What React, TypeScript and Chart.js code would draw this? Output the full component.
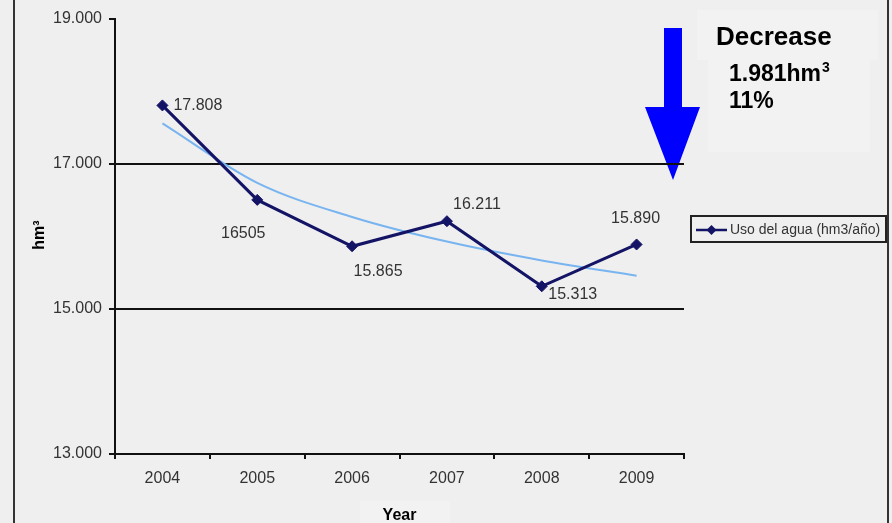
import React, { useEffect, useRef } from 'react';
import { Chart, registerables } from 'chart.js';

Chart.register(...registerables);

// ---- data ----
const years = ['2004', '2005', '2006', '2007', '2008', '2009'];
const waterUse = [17808, 16505, 15865, 16211, 15313, 15890];
// light-blue trend curve, values at each year
const trendValues = [17560, 16740, 16270, 15930, 15670, 15460];
const pointLabels = ['17.808', '16505', '15.865', '16.211', '15.313', '15.890'];
const yMin = 13000;
const yMax = 19000;
const yStep = 2000;
const gridValues = [15000, 17000];
const seriesName = 'Uso del agua (hm3/año)';
const xTitle = 'Year';
const yTitle = 'hm³';
const noteTitle = 'Decrease';
const noteAmount = '1.981hm';
const noteAmountSup = '3';
const notePercent = '11%';

// ---- styles ----
const ARIAL = '"Liberation Sans", Arial, Helvetica, sans-serif';
const BG = '#efefef';
const PANEL = '#f2f2f2';
const NAVY = '#141466';
const TREND = '#78b4f0';
const AXIS = '#111111';
const LABEL = '#333333';

// label offsets relative to each point: dx, dy, align
const labelOffsets: [number, number, CanvasTextAlign][] = [
  [11, 0, 'left'],
  [-14, 34, 'center'],
  [26, 25, 'center'],
  [30, -17, 'center'],
  [31, 8, 'center'],
  [-1, -26, 'center'],
];

const fmt = (v: number) => {
  const s = String(Math.round(v));
  return s.replace(/\B(?=(\d{3})+(?!\d))/g, '.');
};

const decorPlugin = {
  id: 'decor',
  beforeDraw(chart: any) {
    const ctx: CanvasRenderingContext2D = chart.ctx;
    const w = chart.width;
    const h = chart.height;
    ctx.save();
    ctx.fillStyle = BG;
    ctx.fillRect(0, 0, w, h);
    // lighter panels behind the note and x title
    ctx.fillStyle = PANEL;
    ctx.fillRect(697, 10, 181, 50);
    ctx.fillRect(708, 60, 162, 92);
    ctx.fillRect(360, 501, 90, 22);
    // frame lines
    ctx.fillStyle = '#333333';
    ctx.fillRect(13, 0, 2, h);
    ctx.fillRect(887, 0, 2, h);
    // blue arrow
    ctx.fillStyle = '#0000ff';
    ctx.beginPath();
    ctx.moveTo(664, 28);
    ctx.lineTo(682, 28);
    ctx.lineTo(682, 107);
    ctx.lineTo(700, 107);
    ctx.lineTo(673, 180);
    ctx.lineTo(645, 107);
    ctx.lineTo(664, 107);
    ctx.closePath();
    ctx.fill();
    // note text
    ctx.fillStyle = '#000';
    ctx.textAlign = 'left';
    ctx.textBaseline = 'alphabetic';
    ctx.font = `bold 26px ${ARIAL}`;
    ctx.fillText(noteTitle, 716, 45);
    ctx.font = `bold 23px ${ARIAL}`;
    ctx.fillText(noteAmount, 729, 81);
    const aw = ctx.measureText(noteAmount).width;
    ctx.fillText(notePercent, 729, 108);
    ctx.font = `bold 14px ${ARIAL}`;
    ctx.fillText(noteAmountSup, 729 + aw + 1, 72);
    ctx.restore();
  },
  afterDatasetsDraw(chart: any) {
    const ctx: CanvasRenderingContext2D = chart.ctx;
    const meta = chart.getDatasetMeta(0);
    ctx.save();
    ctx.font = `16px ${ARIAL}`;
    ctx.fillStyle = LABEL;
    ctx.textBaseline = 'middle';
    meta.data.forEach((pt: any, i: number) => {
      const [dx, dy, align] = labelOffsets[i];
      ctx.textAlign = align;
      ctx.fillText(pointLabels[i], pt.x + dx, pt.y + dy);
    });
    // axis titles
    const ca = chart.chartArea;
    ctx.fillStyle = '#000';
    ctx.textAlign = 'center';
    ctx.textBaseline = 'alphabetic';
    ctx.font = `bold 16px ${ARIAL}`;
    ctx.fillText(xTitle, (ca.left + ca.right) / 2, 520);
    ctx.translate(44, 235);
    ctx.rotate(-Math.PI / 2);
    ctx.font = `bold 16px ${ARIAL}`;
    ctx.fillText(yTitle, 0, 0);
    ctx.restore();

    // legend
    ctx.save();
    const lx = 690, ly = 215, lw = 197, lh = 28;
    ctx.strokeStyle = '#222';
    ctx.lineWidth = 2;
    ctx.strokeRect(lx + 1, ly + 1, lw - 2, lh - 2);
    const cy = ly + lh / 2 + 1;
    ctx.strokeStyle = NAVY;
    ctx.lineWidth = 2.5;
    ctx.beginPath();
    ctx.moveTo(696, cy);
    ctx.lineTo(727, cy);
    ctx.stroke();
    ctx.fillStyle = NAVY;
    ctx.beginPath();
    ctx.moveTo(711.5, cy - 5);
    ctx.lineTo(716.5, cy);
    ctx.lineTo(711.5, cy + 5);
    ctx.lineTo(706.5, cy);
    ctx.closePath();
    ctx.fill();
    ctx.fillStyle = LABEL;
    ctx.font = `14px ${ARIAL}`;
    ctx.textAlign = 'left';
    ctx.textBaseline = 'middle';
    ctx.fillText(seriesName, 730, cy);
    ctx.restore();
  },
};

export default function App() {
  const ref = useRef<HTMLCanvasElement>(null);
  useEffect(() => {
    const canvas = ref.current!;
    const chart = new Chart(canvas, {
      type: 'line',
      data: {
        labels: years,
        datasets: [
          {
            label: seriesName,
            data: waterUse,
            borderColor: NAVY,
            backgroundColor: NAVY,
            borderWidth: 3,
            pointStyle: 'rectRot',
            pointRadius: 5.5,
            pointBackgroundColor: NAVY,
            pointBorderColor: NAVY,
            pointBorderWidth: 1,
            tension: 0,
            order: 0,
          },
          {
            label: 'Tendencia',
            data: trendValues,
            borderColor: TREND,
            borderWidth: 2,
            pointRadius: 0,
            tension: 0.4,
            cubicInterpolationMode: 'monotone',
            order: 1,
          },
        ],
      },
      options: {
        responsive: false,
        animation: false,
        events: [],
        layout: { padding: { left: 0, right: 208, top: 19, bottom: 0 } },
        plugins: {
          legend: { display: false },
          tooltip: { enabled: false },
        },
        scales: {
          x: {
            type: 'category',
            offset: true,
            grid: {
              display: true,
              offset: true,
              drawOnChartArea: false,
              drawTicks: true,
              tickLength: 5,
              color: AXIS,
              lineWidth: 2,
            },
            border: { display: true, color: AXIS, width: 2 },
            ticks: {
              color: LABEL,
              font: { family: ARIAL, size: 16 },
              padding: 10,
              maxRotation: 0,
            },
            afterFit: (s: any) => {
              s.height = 69;
            },
          },
          y: {
            min: yMin,
            max: yMax,
            ticks: {
              stepSize: yStep,
              color: LABEL,
              font: { family: ARIAL, size: 16 },
              padding: 7,
              callback: (v: any) => fmt(Number(v)),
            },
            grid: {
              color: (c: any) =>
                c.tick && gridValues.includes(c.tick.value) ? AXIS : 'rgba(0,0,0,0)',
              tickColor: AXIS,
              lineWidth: 2,
              tickLength: 6,
            },
            border: { display: true, color: AXIS, width: 2 },
            afterFit: (s: any) => {
              s.width = 115;
            },
          },
        },
      },
      plugins: [decorPlugin],
    } as any);
    return () => chart.destroy();
  }, []);
  return (
    <div style={{ position: 'fixed', left: 0, top: 0, width: 892, height: 523, background: BG }}>
      <canvas ref={ref} width={892} height={523} style={{ display: 'block', width: 892, height: 523 }} />
    </div>
  );
}
